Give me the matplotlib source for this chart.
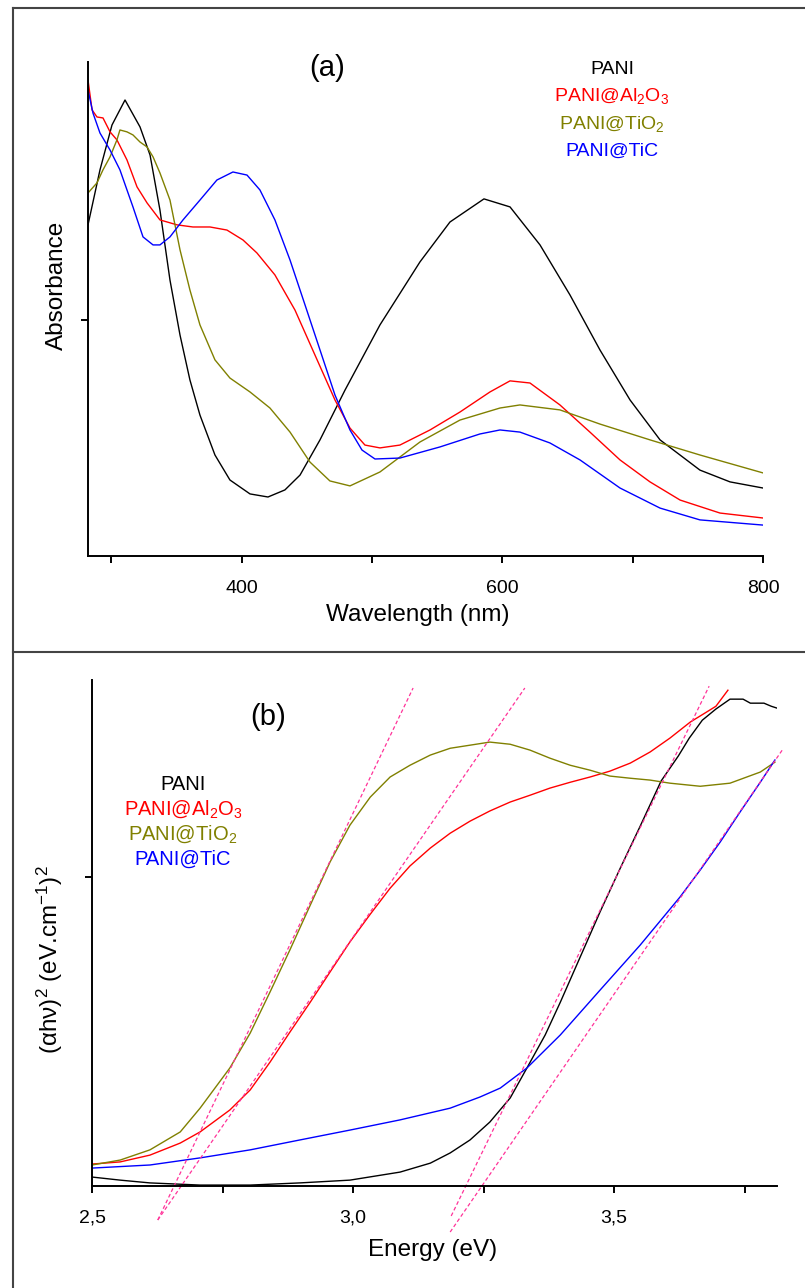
import matplotlib
matplotlib.use('Agg')
from matplotlib import pyplot as plt
from matplotlib.lines import Line2D

plt.rcParams['font.family'] = ['Liberation Sans', 'DejaVu Sans']
plt.rcParams['mathtext.fontset'] = 'custom'
plt.rcParams['mathtext.rm'] = 'Liberation Sans'
plt.rcParams['mathtext.it'] = 'Liberation Sans:italic'
plt.rcParams['mathtext.default'] = 'regular'

# ---- (a) UV-vis absorbance ----
pani_wl = [282.1, 291.3, 300.5, 310.5, 322.0, 329.7, 337.3, 345.0, 352.7, 360.3, 368.0,
           379.5, 391.0, 406.4, 420.2, 433.2, 444.8, 460.1, 479.3, 506.1, 536.8, 559.8,
           585.9, 605.9, 628.9, 651.9, 674.9, 698.0, 721.0, 751.6, 774.7, 800.0]
pani_abs = [1.403, 1.636, 1.826, 1.932, 1.818, 1.699, 1.466, 1.169, 0.936, 0.746, 0.597,
            0.428, 0.322, 0.263, 0.250, 0.280, 0.343, 0.492, 0.703, 0.979, 1.246, 1.415,
            1.513, 1.479, 1.318, 1.106, 0.873, 0.661, 0.492, 0.364, 0.314, 0.288]

al2o3_wl = [282.1, 285.2, 289.0, 293.6, 299.0, 304.3, 312.0, 319.7, 327.4, 337.3, 350.4,
            362.6, 375.7, 388.7, 401.0, 411.7, 425.5, 440.9, 456.2, 471.6, 483.1, 494.6,
            506.1, 521.4, 544.5, 567.5, 590.5, 605.9, 621.2, 644.2, 667.2, 690.3, 713.3,
            736.4, 767.0, 800.0]
al2o3_abs = [2.017, 1.890, 1.860, 1.856, 1.797, 1.763, 1.678, 1.564, 1.496, 1.424, 1.403,
             1.394, 1.394, 1.381, 1.339, 1.284, 1.191, 1.042, 0.852, 0.661, 0.542, 0.470,
             0.458, 0.470, 0.534, 0.610, 0.695, 0.742, 0.733, 0.640, 0.525, 0.407, 0.314,
             0.237, 0.182, 0.161]

tio2_wl = [282.1, 289.0, 293.6, 299.0, 304.3, 306.6, 312.0, 316.6, 322.0, 327.4, 332.0,
           337.3, 345.0, 352.7, 360.3, 368.0, 379.5, 391.0, 406.4, 421.7, 437.1, 452.4,
           467.7, 483.1, 506.1, 536.8, 567.5, 598.2, 613.5, 644.2, 674.9, 713.3, 751.6,
           800.0]
tio2_abs = [1.538, 1.581, 1.636, 1.691, 1.763, 1.805, 1.797, 1.784, 1.754, 1.733, 1.691,
            1.623, 1.508, 1.297, 1.127, 0.979, 0.831, 0.754, 0.695, 0.627, 0.525, 0.398,
            0.318, 0.297, 0.356, 0.483, 0.576, 0.627, 0.640, 0.619, 0.559, 0.492, 0.428,
            0.352]

tic_wl = [282.1, 285.9, 291.3, 299.0, 306.6, 312.0, 316.6, 324.3, 332.0, 337.3, 345.0,
          355.0, 368.0, 381.0, 393.3, 404.1, 414.0, 425.5, 437.1, 448.6, 460.1, 471.6,
          483.1, 492.3, 502.3, 521.4, 552.1, 582.8, 598.2, 613.5, 636.5, 659.6, 690.3,
          721.0, 751.6, 800.0]
tic_abs = [1.975, 1.877, 1.792, 1.720, 1.636, 1.551, 1.479, 1.352, 1.318, 1.318, 1.352,
           1.424, 1.508, 1.593, 1.627, 1.614, 1.551, 1.424, 1.254, 1.064, 0.873, 0.682,
           0.534, 0.449, 0.411, 0.415, 0.462, 0.517, 0.534, 0.525, 0.479, 0.407, 0.288,
           0.203, 0.153, 0.131]

# ---- (b) Tauc plot ----
pani_e = [2.500, 2.554, 2.611, 2.707, 2.803, 2.898, 2.994, 3.090, 3.148, 3.186, 3.224,
          3.262, 3.301, 3.333, 3.368, 3.397, 3.435, 3.473, 3.511, 3.550, 3.590, 3.623,
          3.644, 3.669, 3.695, 3.722, 3.747, 3.761, 3.787, 3.801, 3.812]
pani_t = [0.029, 0.019, 0.010, 0.003, 0.003, 0.010, 0.019, 0.045, 0.074, 0.107, 0.149,
          0.207, 0.285, 0.382, 0.489, 0.595, 0.741, 0.887, 1.026, 1.165, 1.311, 1.392,
          1.450, 1.508, 1.544, 1.576, 1.576, 1.563, 1.563, 1.553, 1.547]

al2o3_e = [2.500, 2.554, 2.611, 2.669, 2.707, 2.764, 2.803, 2.841, 2.879, 2.918, 2.956,
           2.994, 3.033, 3.071, 3.109, 3.148, 3.186, 3.224, 3.262, 3.301, 3.339, 3.377,
           3.416, 3.454, 3.492, 3.531, 3.569, 3.607, 3.646, 3.674, 3.695, 3.718]
al2o3_t = [0.071, 0.078, 0.100, 0.139, 0.175, 0.246, 0.311, 0.401, 0.498, 0.595, 0.693,
           0.790, 0.880, 0.964, 1.036, 1.094, 1.142, 1.181, 1.214, 1.243, 1.265, 1.288,
           1.307, 1.324, 1.343, 1.369, 1.405, 1.450, 1.502, 1.531, 1.553, 1.605]

tio2_e = [2.500, 2.554, 2.611, 2.669, 2.707, 2.764, 2.803, 2.841, 2.879, 2.918, 2.956,
          2.994, 3.033, 3.071, 3.109, 3.148, 3.186, 3.224, 3.262, 3.301, 3.339, 3.377,
          3.416, 3.454, 3.492, 3.531, 3.569, 3.607, 3.665, 3.722, 3.780, 3.808]
tio2_t = [0.068, 0.084, 0.117, 0.175, 0.252, 0.382, 0.495, 0.628, 0.764, 0.909, 1.049,
          1.168, 1.259, 1.324, 1.362, 1.395, 1.417, 1.427, 1.437, 1.430, 1.411, 1.385,
          1.362, 1.346, 1.327, 1.320, 1.314, 1.304, 1.294, 1.304, 1.340, 1.372]

tic_e = [2.500, 2.611, 2.707, 2.803, 2.898, 2.994, 3.090, 3.186, 3.243, 3.282, 3.333,
         3.397, 3.473, 3.550, 3.626, 3.665, 3.703, 3.741, 3.780, 3.808]
tic_t = [0.058, 0.068, 0.091, 0.117, 0.149, 0.181, 0.214, 0.252, 0.288, 0.317, 0.382,
         0.489, 0.634, 0.780, 0.935, 1.023, 1.113, 1.210, 1.307, 1.379]

# linear extrapolations used for the band gap
fits = {
    'tio2': ([2.626, 3.115], [-0.110, 1.612]),
    'al2o3': ([2.626, 3.329], [-0.110, 1.612]),
    'pani': ([3.188, 3.682], [-0.097, 1.618]),
    'tic': ([3.186, 3.822], [-0.149, 1.411]),
}

names = ['PANI', 'PANI@Al$_2$O$_3$', 'PANI@TiO$_2$', 'PANI@TiC']
colors = ['black', '#ff0000', '#808000', '#0000ff']
fit_color = '#ff3399'

W, H = 805, 1288


def fx(x):
    return x / W


def fy(y):
    return 1 - y / H


def style_axes(ax):
    for side in ['top', 'right']:
        ax.spines[side].set_visible(False)
    for side in ['left', 'bottom']:
        ax.spines[side].set_linewidth(1.4)
    ax.tick_params(which='both', direction='out', width=1.4, labelsize=14, pad=12)
    ax.tick_params(which='major', length=5)
    ax.tick_params(which='minor', length=5)
    ax.set_yticks([1.0])
    ax.set_yticklabels([])


fig = plt.figure(figsize=(W / 100, H / 100), dpi=100)

# panel (a)
axA = fig.add_axes([fx(88), fy(556), fx(763) - fx(88), fy(62) - fy(556)])
for wl, ab, c in zip([pani_wl, al2o3_wl, tio2_wl, tic_wl],
                     [pani_abs, al2o3_abs, tio2_abs, tic_abs], colors):
    axA.plot(wl, ab, color=c, lw=1.0)
axA.set_xlim(282.1, 800)
axA.set_ylim(0, 2.093)
axA.set_xticks([400, 600, 800])
axA.set_xticks([300, 500, 700], minor=True)
style_axes(axA)

# panel (b)
axB = fig.add_axes([fx(92), fy(1186), fx(777) - fx(92), fy(680) - fy(1186)])
for e, t, c in zip([pani_e, al2o3_e, tio2_e, tic_e],
                   [pani_t, al2o3_t, tio2_t, tic_t], colors):
    axB.plot(e, t, color=c, lw=1.0)
for key in ['tio2', 'al2o3', 'pani', 'tic']:
    fe, ft = fits[key]
    axB.plot(fe, ft, color=fit_color, lw=0.9, ls=(0, (3, 2)), clip_on=False)
axB.set_xlim(2.5, 3.812)
axB.set_ylim(0, 1.638)
axB.set_xticks([2.5, 3.0, 3.5])
axB.set_xticklabels(['2,5', '3,0', '3,5'])
axB.set_xticks([2.75, 3.25, 3.75], minor=True)
style_axes(axB)

# axis titles and panel tags
fig.text(fx(418), fy(615), 'Wavelength (nm)', fontsize=17.5, ha='center', va='center')
fig.text(fx(57), fy(285), 'Absorbance', fontsize=17.5, rotation=90, ha='center', va='center')
fig.text(fx(433), fy(1250), 'Energy (eV)', fontsize=17.5, ha='center', va='center')
fig.text(fx(50), fy(960), '(αhν)$^2$ (eV.cm$^{-1}$)$^2$', fontsize=17.5, rotation=90,
         ha='center', va='center')
fig.text(fx(327), fy(68), '(a)', fontsize=21, ha='center', va='center')
fig.text(fx(268), fy(717), '(b)', fontsize=21, ha='center', va='center')

for i, (name, c) in enumerate(zip(names, colors)):
    fig.text(fx(612), fy(69 + 27.5 * i), name, color=c, fontsize=14, ha='center', va='center')
    fig.text(fx(183), fy(784 + 25 * i), name, color=c, fontsize=14.5, ha='center', va='center')

# surrounding frame
frame = dict(color='#444444', lw=1.5, transform=fig.transFigure)
fig.add_artist(Line2D([fx(13), 1], [fy(8), fy(8)], **frame))
fig.add_artist(Line2D([fx(13), fx(13)], [fy(8), 0], **frame))
fig.add_artist(Line2D([fx(13), 1], [fy(652), fy(652)], **frame))

fig.savefig('out.png', dpi=100)
